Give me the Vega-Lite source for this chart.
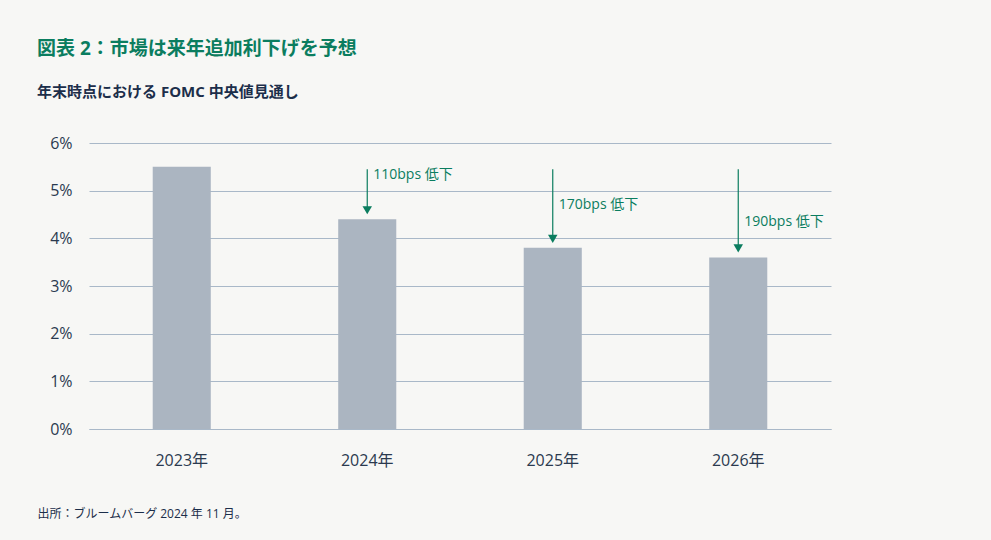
{
  "$schema": "https://vega.github.io/schema/vega-lite/v6.json",
  "width": 742,
  "height": 286,
  "autosize": "none",
  "padding": {"left": 89, "top": 143, "right": 160, "bottom": 111},
  "background": "#f7f7f5",
  "config": {
    "view": {"stroke": null},
    "font": "Open Sans, Noto Sans CJK JP, sans-serif"
  },
  "title": {
    "text": "図表 2：市場は来年追加利下げを予想",
    "subtitle": "年末時点における FOMC 中央値見通し",
    "anchor": "start",
    "frame": "group",
    "dx": -52,
    "offset": 35,
    "fontSize": 19,
    "fontWeight": "bold",
    "color": "#0b7d5f",
    "subtitleFontSize": 15,
    "subtitleFontWeight": "bold",
    "subtitleColor": "#1c2e4a",
    "subtitlePadding": 26,
    "font": "Open Sans, Noto Sans CJK JP, sans-serif",
    "subtitleFont": "Open Sans, Noto Sans CJK JP, sans-serif"
  },
  "data": {
    "values": [
      {"year": "2023年", "value": 5.5},
      {"year": "2024年", "value": 4.4, "label": "110bps 低下", "arrowTop": 5.45, "labelY": 5.33},
      {"year": "2025年", "value": 3.8, "label": "170bps 低下", "arrowTop": 5.45, "labelY": 4.7},
      {"year": "2026年", "value": 3.6, "label": "190bps 低下", "arrowTop": 5.45, "labelY": 4.34}
    ]
  },
  "encoding": {
    "x": {
      "field": "year",
      "type": "nominal",
      "sort": null,
      "scale": {"paddingInner": 0.687, "paddingOuter": 0.3435},
      "axis": {
        "labelAngle": 0,
        "labelFontSize": 16,
        "labelColor": "#2b3a4f",
        "labelPadding": 23,
        "ticks": false,
        "domain": true,
        "domainColor": "#a9b8c8",
        "title": "出所：ブルームバーグ 2024 年 11 月。",
        "titleFontSize": 12,
        "titleFontWeight": "normal",
        "titleColor": "#1c2e4a",
        "titleAnchor": "start",
        "titleAlign": "left",
        "titleX": -52,
        "titleY": 84,
        "titleBaseline": "middle"
      }
    }
  },
  "layer": [
    {
      "mark": {"type": "bar", "color": "#abb5c1"},
      "encoding": {
        "y": {
          "field": "value",
          "type": "quantitative",
          "scale": {"domain": [0, 6]},
          "axis": {
            "values": [0, 1, 2, 3, 4, 5, 6],
            "labelExpr": "datum.value + '%'",
            "labelFontSize": 16,
            "labelColor": "#2b3a4f",
            "labelPadding": 17,
            "ticks": false,
            "domain": false,
            "grid": true,
            "gridColor": "#a9b8c8",
            "gridWidth": 1,
            "title": null
          }
        }
      }
    },
    {
      "transform": [{"filter": "datum.label != null"}],
      "mark": {"type": "rule", "color": "#0b7d5f", "strokeWidth": 1.2, "y2Offset": -10},
      "encoding": {
        "y": {"field": "arrowTop", "type": "quantitative"},
        "y2": {"field": "value"}
      }
    },
    {
      "transform": [{"filter": "datum.label != null"}],
      "mark": {"type": "point", "shape": "triangle-down", "filled": true, "opacity": 1, "color": "#0b7d5f", "size": 90, "yOffset": -9},
      "encoding": {
        "y": {"field": "value", "type": "quantitative"}
      }
    },
    {
      "transform": [{"filter": "datum.label != null"}],
      "mark": {"type": "text", "align": "left", "baseline": "middle", "dx": 6, "fontSize": 14, "color": "#0b7d5f"},
      "encoding": {
        "y": {"field": "labelY", "type": "quantitative"},
        "text": {"field": "label"}
      }
    }
  ]
}
